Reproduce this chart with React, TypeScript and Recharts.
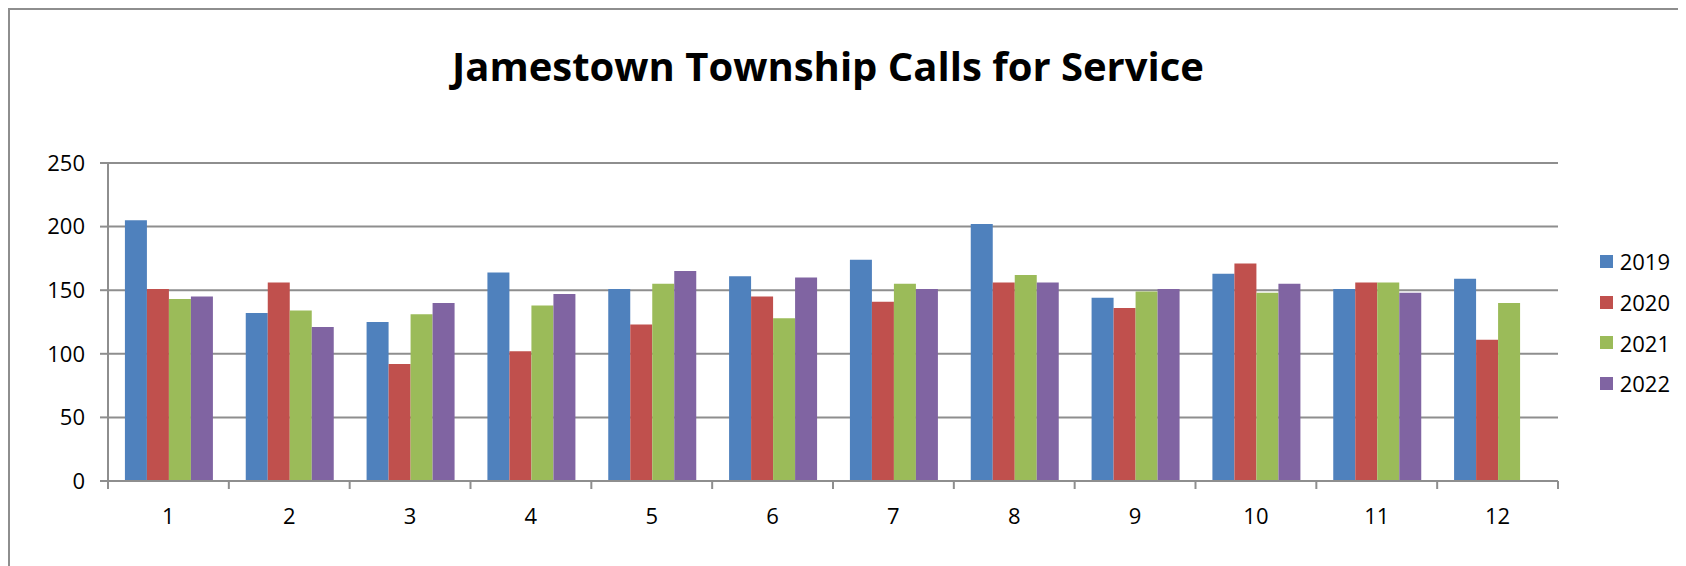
import { Bar, BarChart, CartesianGrid, Legend, XAxis, YAxis } from 'recharts'

const months = ['1', '2', '3', '4', '5', '6', '7', '8', '9', '10', '11', '12']
const calls2019 = [205, 132, 125, 164, 151, 161, 174, 202, 144, 163, 151, 159]
const calls2020 = [151, 156, 92, 102, 123, 145, 141, 156, 136, 171, 156, 111]
const calls2021 = [143, 134, 131, 138, 155, 128, 155, 162, 149, 148, 156, 140]
const calls2022 = [145, 121, 140, 147, 165, 160, 151, 156, 151, 155, 148, null]
const yTicks = [0, 50, 100, 150, 200, 250]
const monthEdges = [0, 1, 2, 3, 4, 5, 6, 7, 8, 9, 10, 11, 12]

const SERIES = [
  { key: 'y2019', name: '2019', color: '#4f81bd' },
  { key: 'y2020', name: '2020', color: '#c0504d' },
  { key: 'y2021', name: '2021', color: '#9bbb59' },
  { key: 'y2022', name: '2022', color: '#8064a2' }
]

const data = months.map((m, i) => ({
  month: m,
  y2019: calls2019[i],
  y2020: calls2020[i],
  y2021: calls2021[i],
  y2022: calls2022[i]
}))

const FONT = '"Open Sans", "DejaVu Sans", sans-serif'
const GRAY = '#8e8e8e'

function LegendBox() {
  return (
    <div style={{ width: 112, paddingLeft: 42, boxSizing: 'border-box', fontFamily: FONT }}>
      {SERIES.map((s) => (
        <div key={s.key} style={{ height: 40.7, display: 'flex', alignItems: 'center' }}>
          <span style={{ width: 13, height: 13, background: s.color, display: 'inline-block', marginRight: 7 }} />
          <span style={{ fontSize: 22, color: '#000', lineHeight: 1 }}>{s.name}</span>
        </div>
      ))}
    </div>
  )
}

export default function App() {
  return (
    <div
      style={{
        position: 'relative',
        width: 1678,
        height: 558,
        boxSizing: 'border-box',
        borderTop: `2px solid ${GRAY}`,
        borderLeft: `2px solid ${GRAY}`,
        overflow: 'hidden',
        background: '#fff'
      }}
    >
      <div
        style={{
          position: 'absolute',
          left: -2,
          top: 36,
          width: 1640,
          textAlign: 'center',
          fontFamily: FONT,
          fontWeight: 700,
          fontSize: 40,
          lineHeight: '40px',
          color: '#000'
        }}
      >
        Jamestown Township Calls for Service
      </div>
      <div style={{ position: 'absolute', left: -2, top: -2 }}>
        <BarChart
          width={1678}
          height={558}
          data={data}
          margin={{ top: 155, right: 16, bottom: 47, left: 0 }}
          barCategoryGap="14%"
          barGap={0}
        >
          <CartesianGrid vertical={false} stroke={GRAY} strokeWidth={2} />
          {/* numeric twin axis: only draws the ticks between the month groups */}
          <XAxis
            type="number"
            dataKey={(d) => Number(d.month)}
            domain={[0, 12]}
            allowDataOverflow
            ticks={monthEdges}
            interval={0}
            tickFormatter={() => ''}
            tickLine={{ stroke: GRAY, strokeWidth: 2 }}
            tickSize={8}
            axisLine={{ stroke: GRAY, strokeWidth: 2 }}
            height={8}
          />
          <XAxis
            xAxisId="months"
            dataKey="month"
            tickLine={false}
            tickSize={8}
            tickMargin={11}
            axisLine={false}
            tick={{ fill: '#000', fontSize: 22, fontFamily: FONT }}
            height={30}
            interval={0}
          />
          <YAxis
            domain={[0, 250]}
            ticks={yTicks}
            width={100}
            tickSize={8}
            tickMargin={15}
            tickLine={{ stroke: GRAY, strokeWidth: 2 }}
            axisLine={{ stroke: GRAY, strokeWidth: 2 }}
            tick={{ fill: '#000', fontSize: 22, fontFamily: FONT }}
          />
          <Legend
            layout="vertical"
            align="right"
            verticalAlign="middle"
            wrapperStyle={{ top: 233 }}
            content={() => <LegendBox />}
          />
          {SERIES.map((s) => (
            <Bar
              key={s.key}
              xAxisId="months"
              dataKey={s.key}
              name={s.name}
              fill={s.color}
              isAnimationActive={false}
            />
          ))}
        </BarChart>
      </div>
    </div>
  )
}
